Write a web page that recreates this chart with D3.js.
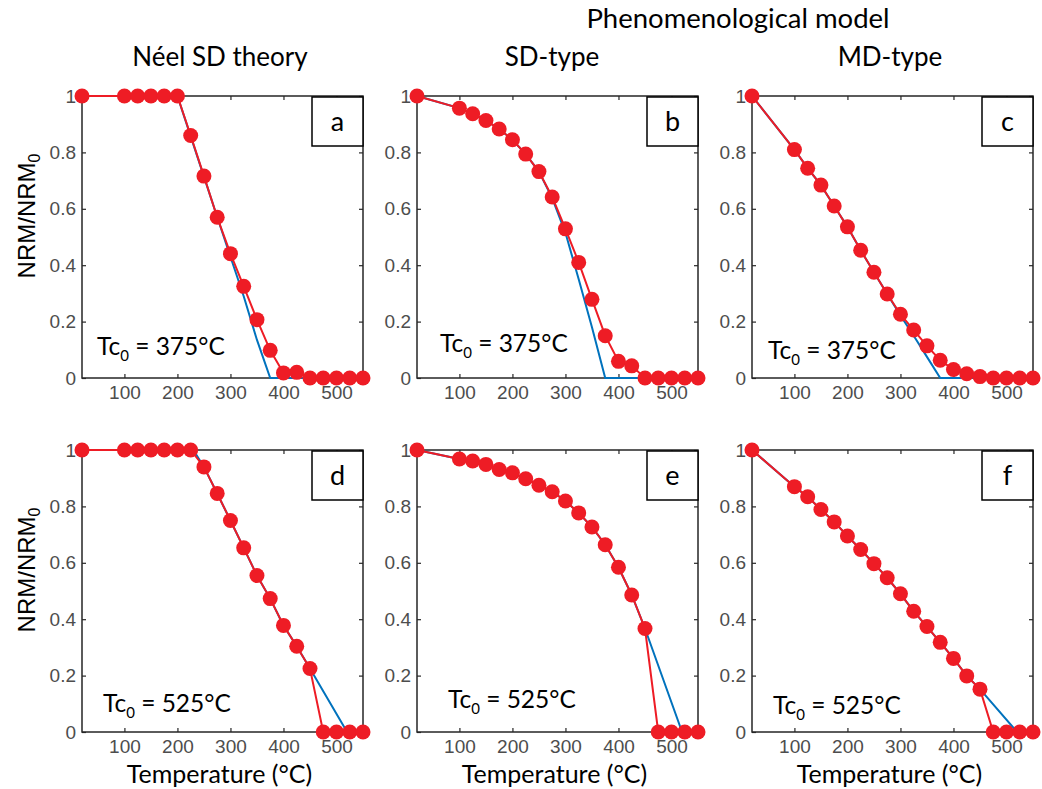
<!DOCTYPE html>
<html>
<head>
<meta charset="utf-8">
<script src="https://cdn.jsdelivr.net/npm/d3@7"></script>
<style>
  body { margin: 0; background: #fff; }
  svg { display: block; }
</style>
</head>
<body>
<svg id="chart" width="1042" height="789"></svg>
<script>
"use strict";

// heating steps (°C), shared by all red curves
var temps = [20,100,125,150,175,200,225,250,275,300,325,350,375,400,425,450,475,500,525,550];

// red: NRM/NRM0 (markers)
var redA = [1,1,1,1,1,1,0.86,0.716,0.570,0.441,0.325,0.207,0.098,0.018,0.02,0,0,0,0,0];
var redB = [1,0.957,0.937,0.913,0.883,0.845,0.794,0.732,0.642,0.529,0.410,0.279,0.150,0.059,0.043,0,0,0,0,0];
var redC = [1,0.810,0.744,0.684,0.610,0.536,0.453,0.375,0.298,0.226,0.170,0.114,0.063,0.030,0.015,0.005,0,0,0,0];
var redD = [1,1,1,1,1,1,1,0.940,0.846,0.750,0.653,0.555,0.473,0.378,0.304,0.225,0,0,0,0];
var redE = [1,0.968,0.961,0.949,0.931,0.919,0.898,0.875,0.852,0.819,0.777,0.727,0.664,0.584,0.486,0.367,0,0,0,0];
var redF = [1,0.870,0.834,0.789,0.745,0.695,0.647,0.597,0.547,0.490,0.428,0.374,0.318,0.261,0.199,0.152,0,0,0,0];

// blue: model curves
var blueTempsA = [20,200,225,250,275,300,325,350,375,550];
var blueA = [1,1,0.857,0.714,0.571,0.43,0.29,0.135,0,0];
var blueTempsB = [20,100,125,150,175,200,225,250,275,300,325,350,375,550];
var blueB = [1,0.957,0.937,0.913,0.883,0.845,0.794,0.732,0.638,0.515,0.35,0.18,0,0];
var blueTempsC = [20,100,125,150,175,200,225,250,275,300,325,350,375,550];
var blueC = [1,0.81,0.744,0.684,0.61,0.536,0.453,0.375,0.298,0.222,0.15,0.075,0,0];
var blueTempsD = [20,230,250,275,300,325,350,375,400,425,450,520,550];
var blueD = [1,1,0.94,0.846,0.75,0.653,0.555,0.473,0.378,0.304,0.225,0,0];
var blueTempsE = [20,100,125,150,175,200,225,250,275,300,325,350,375,400,425,450,520,550];
var blueE = [1,0.968,0.961,0.949,0.931,0.919,0.898,0.875,0.852,0.819,0.777,0.727,0.664,0.584,0.486,0.367,0,0];
var blueTempsF = [20,100,125,150,175,200,225,250,275,300,325,350,375,400,425,450,520,550];
var blueF = [1,0.870,0.834,0.789,0.745,0.695,0.647,0.597,0.547,0.490,0.428,0.374,0.318,0.261,0.199,0.152,0,0];

var letters = ["a","b","c","d","e","f"];
var tcLabels = ["375°C","375°C","375°C","525°C","525°C","525°C"];
var colTitles = ["Néel SD theory","SD-type","MD-type"];
var topTitle = "Phenomenological model";
var xTicks = [100,200,300,400,500];
var yTicks = [0,0.2,0.4,0.6,0.8,1];

var reds = [redA,redB,redC,redD,redE,redF];
var blues = [[blueTempsA,blueA],[blueTempsB,blueB],[blueTempsC,blueC],
             [blueTempsD,blueD],[blueTempsE,blueE],[blueTempsF,blueF]];

// layout
var colX = [82,417,752], rowY = [96,450];
var pw = 281, ph = 282;
var tcPos = [[15,23],[23,26],[16,19],[21,20],[31,24],[21,18]]; // [dx from left, dy from bottom]

var svg = d3.select("#chart");
var RED = "#ee1c25", BLUE = "#0072bd", AXC = "#262626";
var SANS = "Lato, 'Open Sans', sans-serif";

var x = d3.scaleLinear().domain([20,550]).range([0,pw]);
var y = d3.scaleLinear().domain([0,1]).range([ph,0]);

var line = d3.line().x(function(d){return x(d[0]);}).y(function(d){return y(d[1]);});

for (var i=0;i<6;i++){
	var c = i%3, r = Math.floor(i/3);
	var g = svg.append("g").attr("transform","translate("+colX[c]+","+rowY[r]+")");

	// axes with inward ticks on all four sides
	var gx = g.append("g").attr("transform","translate(0,"+ph+")")
		.call(d3.axisBottom(x).tickValues(xTicks).tickSize(-4).tickPadding(8));
	var gy = g.append("g")
		.call(d3.axisLeft(y).tickValues(yTicks).tickSize(-4).tickPadding(6)
			.tickFormat(function(d){return +d.toFixed(1);}));
	var gt = g.append("g").call(d3.axisTop(x).tickValues(xTicks).tickSize(-4).tickFormat(""));
	var gr = g.append("g").attr("transform","translate("+pw+",0)")
		.call(d3.axisRight(y).tickValues(yTicks).tickSize(-4).tickFormat(""));

	[gx,gy,gt,gr].forEach(function(a){
		a.select(".domain").remove();
		a.selectAll(".tick line").attr("stroke",AXC).attr("stroke-width",1.2);
		a.selectAll("text").attr("font-family","'Liberation Sans', Arial, sans-serif")
			.attr("font-size",19).attr("fill","#4d4d4d");
	});

	g.append("rect").attr("width",pw).attr("height",ph)
		.attr("fill","none").attr("stroke",AXC).attr("stroke-width",1.5);

	// letter box
	g.append("rect").attr("x",pw-51).attr("y",1).attr("width",51).attr("height",49)
		.attr("fill","#fff").attr("stroke","#000").attr("stroke-width",1.5);
	g.append("text").attr("x",pw-25.5).attr("y",35).attr("text-anchor","middle")
		.attr("font-family",SANS).attr("font-size",27)
		.text(letters[i]);

	// Tc label
	var tc = g.append("text").attr("x",tcPos[i][0]).attr("y",ph-tcPos[i][1])
		.attr("font-family",SANS).attr("font-size",24.5).attr("fill","#000");
	tc.append("tspan").text("Tc");
	tc.append("tspan").attr("font-size",15).attr("dy",6).text("0");
	tc.append("tspan").attr("dy",-6).text(" = "+tcLabels[i]);

	// blue model line
	var bt = blues[i][0], bv = blues[i][1];
	g.append("path").datum(bt.map(function(t,k){return [t,bv[k]];}))
		.attr("d",line).attr("fill","none").attr("stroke",BLUE).attr("stroke-width",2);

	// red data line + markers
	var rd = temps.map(function(t,k){return [t,reds[i][k]];});
	g.append("path").datum(rd).attr("d",line).attr("fill","none")
		.attr("stroke",RED).attr("stroke-width",2);
	g.selectAll("circle.pt").data(rd).enter().append("circle").attr("class","pt")
		.attr("cx",function(d){return x(d[0]);}).attr("cy",function(d){return y(d[1]);})
		.attr("r",7.5).attr("fill",RED);

	// axis labels
	if (c===0){
		var yl = svg.append("text")
			.attr("transform","translate(35,"+(rowY[r]+ph/2-21)+") rotate(-90)")
			.attr("text-anchor","middle")
			.attr("font-family","'Liberation Sans', Arial, sans-serif").attr("font-size",24);
		yl.append("tspan").text("NRM/NRM");
		yl.append("tspan").attr("font-size",16).attr("dy",5).text("0");
	}
	if (r===1){
		svg.append("text").attr("x",colX[c]+pw/2-3).attr("y",783)
			.attr("text-anchor","middle")
			.attr("font-family",SANS).attr("font-size",25)
			.text("Temperature (°C)");
	}
}

// titles
var titleX = [220,552,890];
colTitles.forEach(function(t,k){
	svg.append("text").attr("x",titleX[k]).attr("y",66).attr("text-anchor","middle")
		.attr("font-family",SANS).attr("font-size",26).text(t);
});
svg.append("text").attr("x",738).attr("y",28).attr("text-anchor","middle")
	.attr("font-family",SANS).attr("font-size",27.5).text(topTitle);
</script>
</body>
</html>
